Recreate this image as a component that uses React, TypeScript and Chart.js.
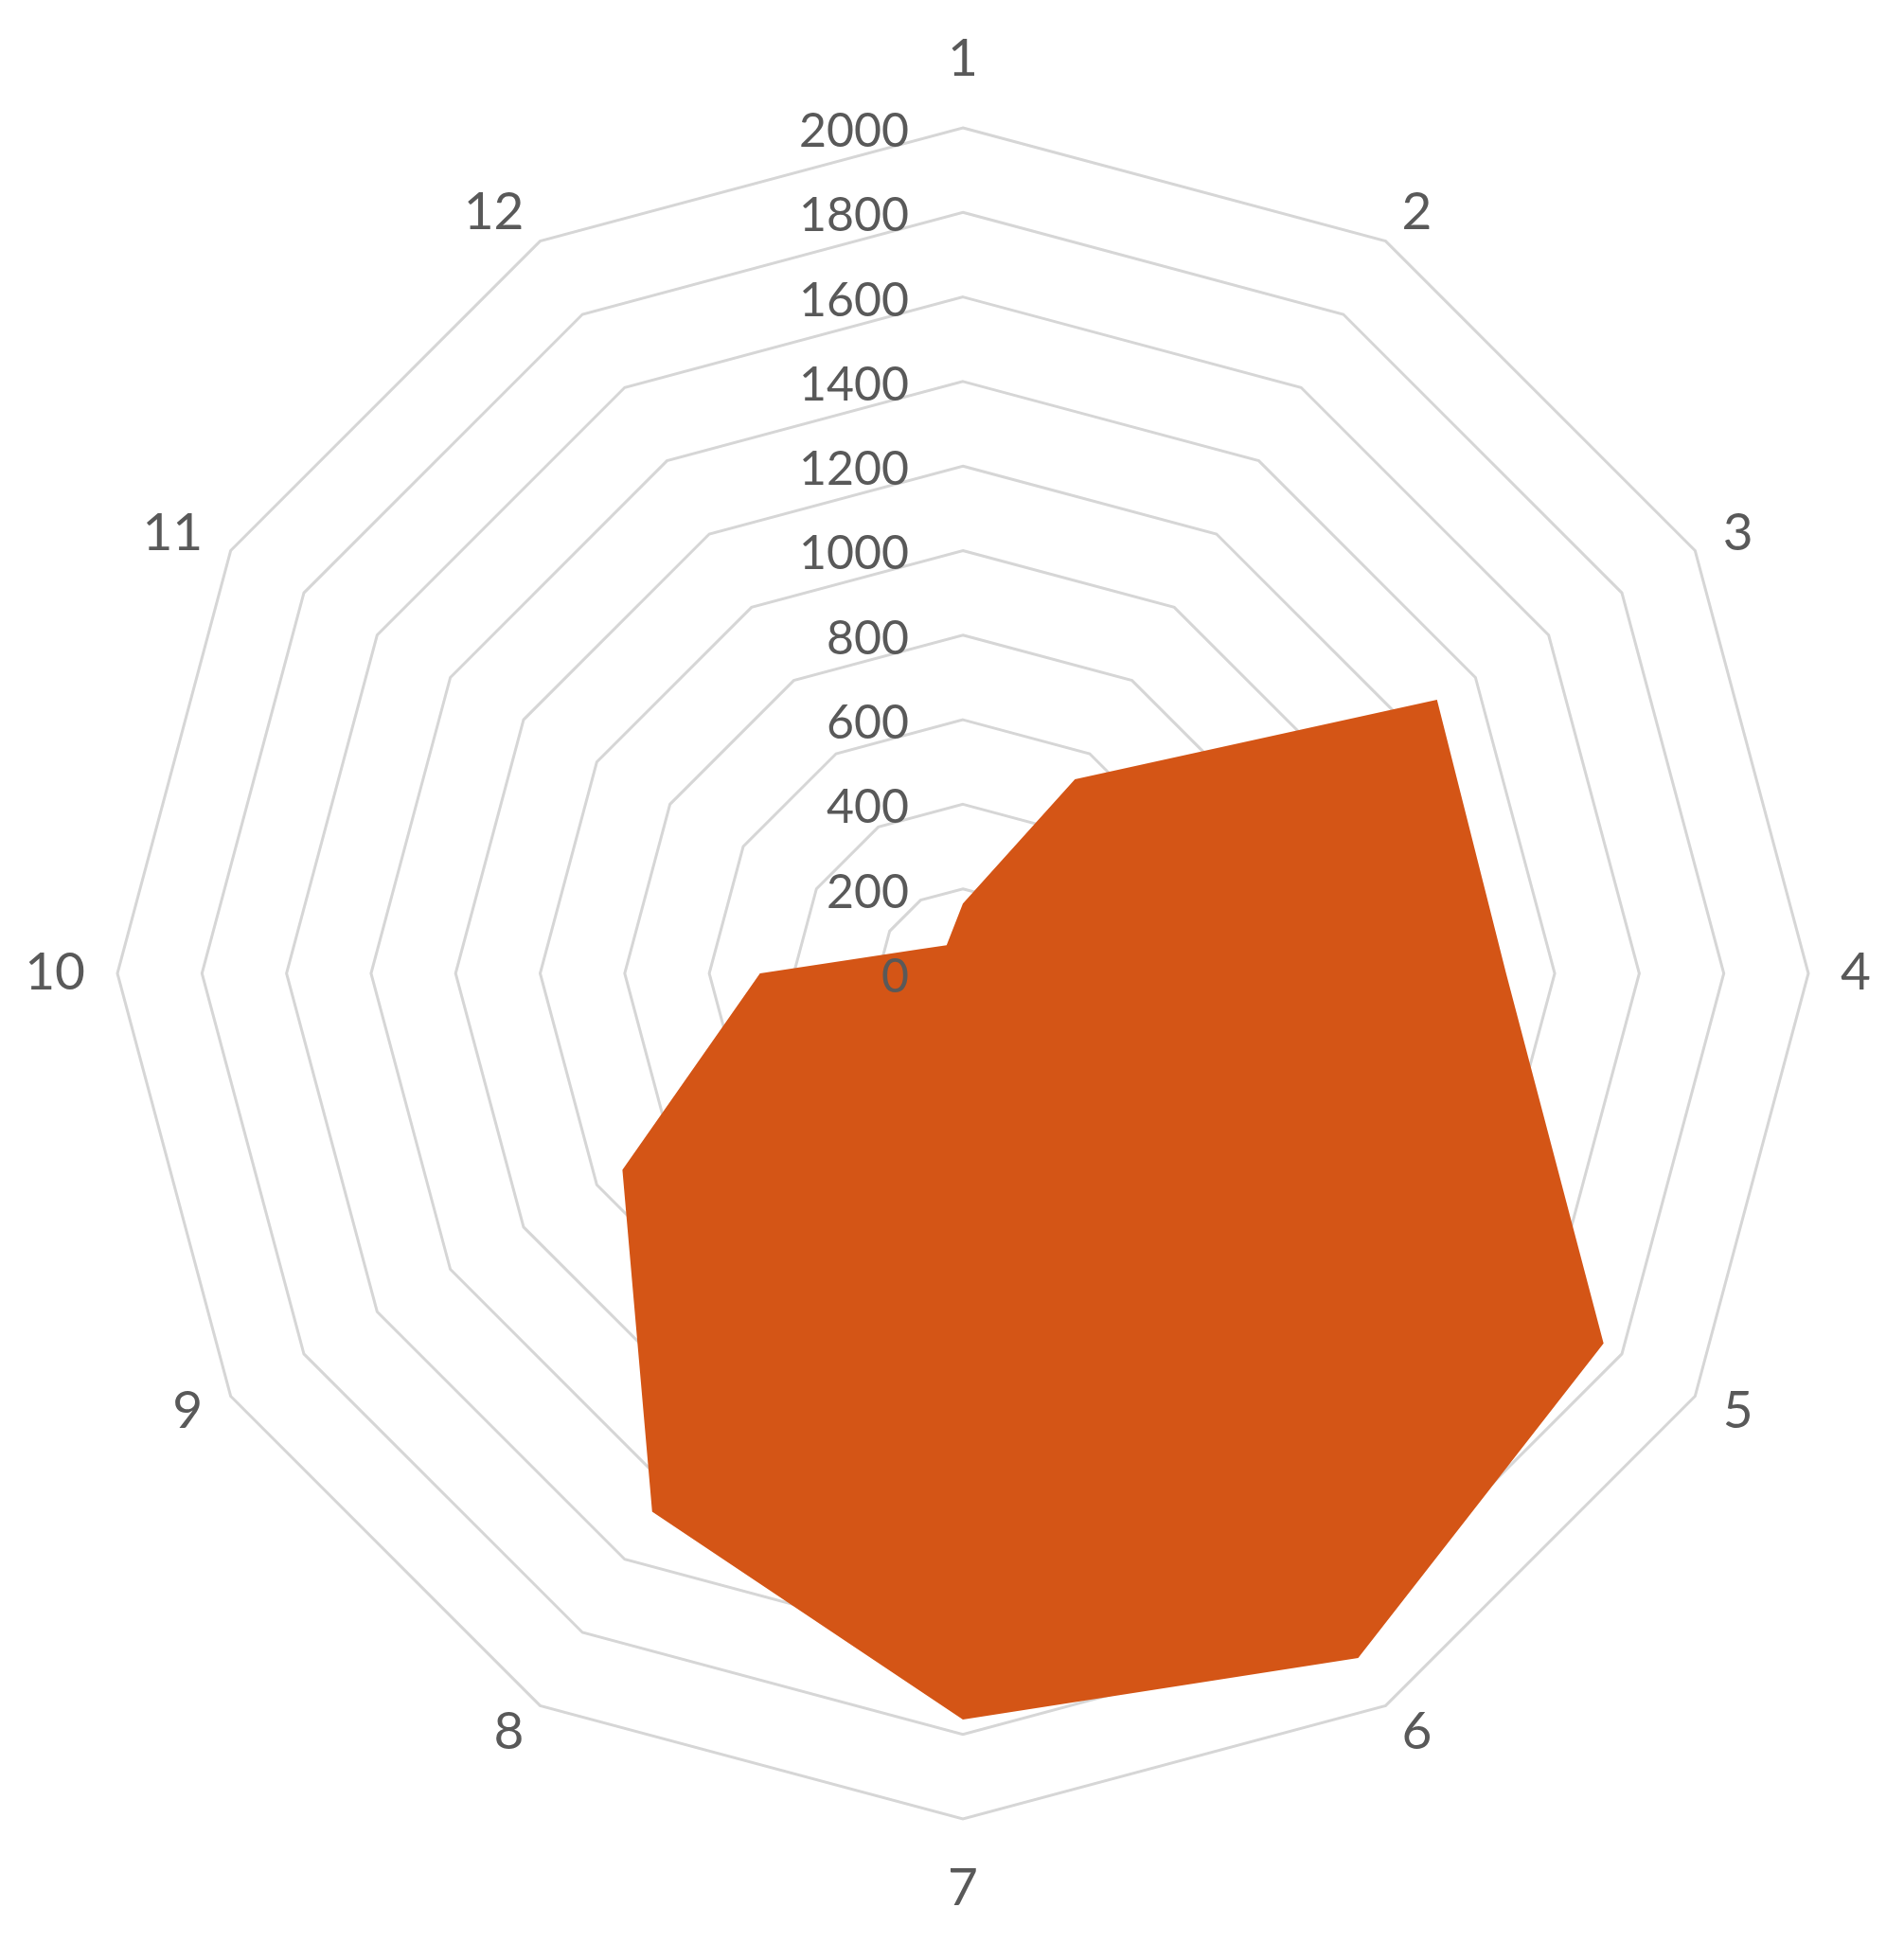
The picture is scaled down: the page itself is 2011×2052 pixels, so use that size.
import React, { useEffect, useRef } from 'react';
import { Chart, registerables } from 'chart.js';

Chart.register(...registerables);

const categories = ['1', '2', '3', '4', '5', '6', '7', '8', '9', '10', '11', '12'];
const seriesValues = [165, 530, 1295, 1285, 1750, 1870, 1765, 1470, 930, 480, 115, 77];
const tickValues = [0, 200, 400, 600, 800, 1000, 1200, 1400, 1600, 1800, 2000];

const TEXT_COLOR = '#595959';
const FONT_FAMILY = 'Lato';
const TICK_SIZE = 50;
const POINT_SIZE = 55;

const customLabels = {
  id: 'customLabels',
  afterDatasetsDraw(chart: any) {
    const scale = chart.scales.r;
    const ctx = chart.ctx;
    ctx.save();
    ctx.fillStyle = TEXT_COLOR;

    // value labels, right-aligned left of the vertical axis
    ctx.font = `${TICK_SIZE}px ${FONT_FAMILY}`;
    ctx.textAlign = 'right';
    ctx.textBaseline = 'alphabetic';
    tickValues.forEach((v) => {
      const d = scale.getDistanceFromCenterForValue(v);
      ctx.fillText(String(v), scale.xCenter - 57, scale.yCenter - d + 2 + TICK_SIZE * 0.358);
    });

    // category labels around the outside
    ctx.font = `${POINT_SIZE}px ${FONT_FAMILY}`;
    const labels: string[] = chart.data.labels;
    labels.forEach((lab, i) => {
      const p = scale.getPointPosition(i, scale.drawingArea + 34);
      const dx = p.x - scale.xCenter;
      let y = p.y + POINT_SIZE * 0.358 - 3;
      if (Math.abs(dx) < 1) {
        ctx.textAlign = 'center';
        y += p.y < scale.yCenter ? -38 : 40;
      } else {
        ctx.textAlign = dx > 0 ? 'left' : 'right';
      }
      ctx.fillText(lab, p.x, y);
    });
    ctx.restore();
  },
};

export default function App() {
  const ref = useRef<HTMLCanvasElement | null>(null);

  useEffect(() => {
    document.body.style.margin = '0';
    const canvas = ref.current;
    if (!canvas) return;
    const chart = new Chart(canvas, {
      type: 'radar',
      data: {
        labels: categories,
        datasets: [
          {
            data: seriesValues,
            backgroundColor: '#D45516',
            borderWidth: 0,
            pointRadius: 0,
            fill: true,
          },
        ],
      },
      options: {
        responsive: false,
        animation: false,
        layout: { padding: { left: 124, right: 101, top: 135, bottom: 131 } },
        plugins: { legend: { display: false }, tooltip: { enabled: false } },
        scales: {
          r: {
            min: 0,
            max: 2000,
            ticks: { stepSize: 200, display: false },
            angleLines: { display: false },
            grid: { color: '#d6d6d6', lineWidth: 3 },
            pointLabels: { display: false },
          },
        },
      },
      plugins: [customLabels],
    });
    return () => chart.destroy();
  }, []);

  return (
    <div style={{ width: 2011, height: 2052 }}>
      <canvas ref={ref} width={2011} height={2052} style={{ display: 'block' }} />
    </div>
  );
}
